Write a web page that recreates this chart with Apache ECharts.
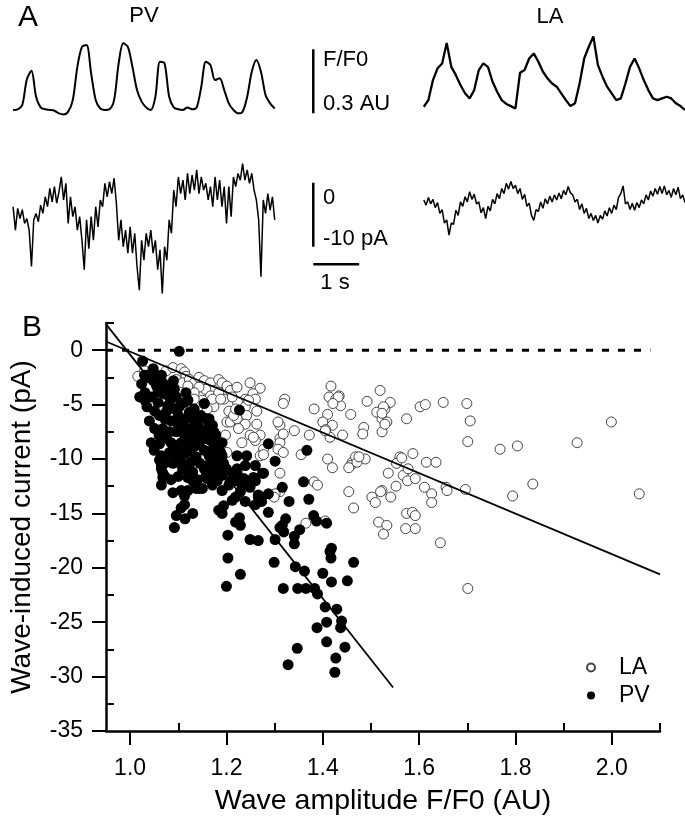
<!DOCTYPE html>
<html>
<head>
<meta charset="utf-8">
<script src="https://cdn.jsdelivr.net/npm/echarts@6/dist/echarts.min.js"></script>
<style>
  html, body { margin: 0; padding: 0; background: #fff; }
  #main { width: 685px; height: 821px; }
</style>
</head>
<body>
<div id="main"></div>
<script>
// ---- panel A traces (F/F0 in AU above baseline, current in pA) ----
const dtFluo = 0.1;   // s between samples
const dtCur = 0.05;
const pvFluo = [0.016,0.019,0.039,0.16,0.2,0.078,0.028,0.019,0.016,0.012,0.0,-0.005,0.008,0.062,0.218,0.312,0.32,0.187,0.062,0.023,0.016,0.019,0.062,0.234,0.328,0.312,0.218,0.109,0.055,0.028,0.016,0.078,0.242,0.234,0.078,0.028,0.019,0.016,0.028,0.019,0.028,0.125,0.242,0.226,0.156,0.164,0.109,0.047,0.016,0.0,0.008,0.078,0.195,0.25,0.195,0.086,0.047,0.023];
const laFluo = [0.031,0.062,0.156,0.211,0.234,0.33,0.218,0.179,0.133,0.094,0.07,0.109,0.203,0.234,0.218,0.148,0.101,0.062,0.044,0.034,0.023,0.19,0.203,0.257,0.281,0.242,0.195,0.164,0.14,0.125,0.094,0.062,0.034,0.047,0.14,0.257,0.312,0.36,0.226,0.172,0.125,0.094,0.062,0.07,0.14,0.218,0.257,0.211,0.156,0.109,0.07,0.062,0.07,0.078,0.07,0.047,0.034,0.016];
const pvCur = [-3.75,-7.4,-4.0,-5.6,-4.2,-6.35,-5.6,-7.4,-13.1,-5.8,-4.8,-6.1,-3.5,-4.8,-2.2,-3.75,-0.9,-3.0,-0.6,-3.2,-1.4,0.9,-2.7,-0.1,-6.35,-2.2,-5.3,-3.75,-7.4,-5.3,-9.0,-13.6,-5.8,-10.3,-5.3,-9.0,-3.75,-6.9,-2.7,-3.75,-0.1,-2.2,0.15,-1.7,0.7,-3.2,-9.0,-5.8,-10.0,-7.4,-11.0,-6.9,-11.0,-7.9,-13.1,-16.8,-9.0,-12.1,-7.9,-10.0,-7.4,-11.0,-9.0,-13.6,-10.5,-17.3,-10.0,-12.1,-5.8,-7.9,-1.15,-3.75,0.9,-1.7,0.4,-2.7,1.45,-1.7,1.2,-1.15,2.0,-1.7,0.9,-1.15,-0.1,-2.7,-0.6,-3.75,0.9,-2.7,0.4,-3.75,-0.6,-6.35,-0.6,-5.3,0.9,-0.6,1.45,0.4,3.0,0.4,2.0,-0.1,1.45,-1.15,-2.7,-5.8,-14.7,-2.7,-4.8,-1.7,-4.3,-2.2,-5.8];
const laCur = [-2.7,-3.5,-2.3,-3.3,-2.6,-3.9,-3.1,-4.8,-4.2,-6.3,-5.8,-8.2,-6.3,-6.5,-4.3,-5.1,-3.0,-3.7,-2.2,-3.0,-1.4,-2.6,-1.8,-3.3,-3.0,-4.7,-3.9,-5.6,-3.7,-4.4,-2.6,-3.3,-1.7,-2.5,-0.9,-1.7,-0.1,-1.0,0.2,-0.9,-0.4,-1.7,-0.9,-2.6,-1.8,-3.7,-3.2,-5.1,-5.9,-4.2,-4.5,-3.0,-4.0,-2.5,-3.3,-2.1,-3.0,-1.9,-2.7,-1.6,-2.5,-1.2,-1.9,-0.6,-1.6,-1.9,-3.0,-2.6,-4.2,-3.3,-4.8,-4.0,-5.6,-4.8,-5.9,-5.1,-6.3,-5.1,-5.7,-4.4,-5.2,-3.9,-4.8,-3.5,-4.2,-2.3,-1.7,-0.5,-3.3,-3.0,-4.2,-3.2,-4.3,-3.1,-3.9,-2.7,-3.3,-1.9,-2.7,-1.3,-2.1,-0.9,-1.8,-0.6,-1.7,-0.5,-1.9,-1.2,-2.3,-0.9,-1.9,-0.7,-2.5,-1.9,-3.1];

// scale bars: position (s) and sizes
const barT = 6.54;
const barAU = 0.3;
const barPA = -10;
const barSec = 1;
const barSecY = -12.75;

// ---- panel B scatter: [F/F0, current pA] ----
const laPoints = [
[1.016,-2.4],[1.030,-1.9],[1.075,-1.9],[1.089,-1.6],[1.106,-1.7],[1.113,-2.0],[1.116,-2.4],[1.096,-2.7],[1.109,-3.0],[1.123,-2.7],[1.133,-3.0],[1.143,-2.5],[1.154,-2.8],[1.167,-3.0],[1.184,-2.7],[1.191,-3.0],[1.201,-3.3],[1.208,-3.7],[1.174,-3.7],[1.157,-3.6],[1.143,-3.4],[1.133,-3.9],[1.120,-3.3],[1.167,-4.2],[1.181,-4.3],[1.195,-4.5],[1.174,-5.2],[1.160,-5.4],[1.150,-4.6],[1.205,-5.6],[1.201,-6.6],[1.198,-7.8],[1.222,-3.4],[1.249,-3.0],[1.270,-3.5],[1.255,-4.0],[1.260,-4.5],[1.239,-4.5],[1.223,-4.8],[1.212,-4.3],[1.184,-3.9],[1.171,-4.5],[1.133,-4.5],[1.188,-4.5],[1.239,-5.2],[1.263,-5.6],[1.242,-6.0],[1.208,-6.6],[1.222,-6.3],[1.239,-6.8],[1.263,-6.8],[1.270,-7.8],[1.249,-7.8],[1.232,-8.5],[1.260,-8.3],[1.277,-9.1],[1.270,-9.7],[1.311,-8.1],[1.311,-6.9],[1.321,-4.5],[1.318,-4.9],[1.307,-6.6],[1.341,-7.4],[1.372,-7.8],[1.355,-9.6],[1.382,-5.4],[1.410,-5.9],[1.417,-3.3],[1.413,-4.3],[1.427,-4.5],[1.434,-4.2],[1.437,-5.1],[1.458,-5.9],[1.400,-6.6],[1.420,-6.9],[1.406,-7.3],[1.415,-8.0],[1.441,-7.8],[1.492,-4.7],[1.519,-3.7],[1.540,-4.8],[1.529,-5.4],[1.512,-5.7],[1.523,-6.3],[1.533,-6.6],[1.523,-7.5],[1.485,-7.1],[1.483,-7.7],[1.475,-10.0],[1.461,-10.3],[1.458,-10.6],[1.488,-10.0],[1.468,-9.8],[1.410,-10.0],[1.420,-10.8],[1.454,-10.8],[1.536,-11.3],[1.523,-12.9],[1.502,-13.5],[1.509,-14.0],[1.541,-13.5],[1.516,-15.8],[1.533,-16.1],[1.526,-16.9],[1.454,-13.0],[1.464,-14.5],[1.406,-15.8],[1.365,-15.9],[1.311,-13.0],[1.301,-13.2],[1.299,-13.5],[1.382,-12.1],[1.389,-12.4],[1.311,-11.3],[1.201,-9.4],[1.256,-8.0],[1.311,-8.5],[1.318,-7.7],[1.307,-9.1],[1.277,-9.6],[1.318,-9.4],[1.215,-6.0],[1.225,-7.2],[1.219,-5.4],[1.246,-4.6],[1.432,-4.3],[1.421,-4.9],[1.526,-5.2],[1.523,-5.8],[1.529,-6.8],[1.405,-7.4],[1.471,-10.3],[1.475,-9.8],[1.560,-9.8],[1.553,-10.4],[1.567,-11.5],[1.552,-12.5],[1.520,-13.0],[1.405,-15.7],
[1.574,-6.3],[1.602,-5.2],[1.613,-5.0],[1.650,-4.8],[1.699,-4.9],[1.706,-6.5],[1.701,-8.4],[1.768,-9.1],[1.804,-8.8],[1.928,-8.5],[1.999,-6.6],[2.057,-13.2],[1.564,-9.9],[1.587,-9.5],[1.615,-10.3],[1.635,-10.3],[1.577,-10.9],[1.576,-12.0],[1.592,-11.8],[1.611,-12.6],[1.626,-13.2],[1.626,-14.0],[1.656,-12.6],[1.658,-12.9],[1.696,-12.8],[1.794,-13.4],[1.836,-12.3],[1.574,-15.0],[1.586,-14.9],[1.592,-15.2],[1.572,-16.4],[1.592,-16.4],[1.644,-17.7],[1.701,-21.9]
];
const pvPoints = [
[1.102,-0.1],[1.026,-1.0],[1.048,-1.7],[1.051,-2.2],[1.041,-2.2],[1.055,-2.7],[1.037,-2.5],[1.048,-2.8],[1.055,-3.3],[1.024,-3.1],[1.020,-4.3],[1.031,-3.9],[1.031,-4.6],
[1.068,-3.0],[1.078,-3.4],[1.092,-3.6],[1.085,-4.5],[1.096,-4.3],[1.116,-3.9],[1.113,-4.8],[1.102,-5.2],[1.123,-5.7],[1.133,-5.4],[1.130,-6.3],[1.116,-6.3],[1.092,-5.4],[1.078,-5.1],[1.058,-4.8],[1.044,-4.3],[1.051,-5.6],[1.061,-6.0],[1.075,-5.7],[1.072,-6.3],[1.085,-6.5],[1.099,-6.8],[1.113,-7.1],[1.126,-7.2],[1.140,-6.6],[1.147,-6.0],[1.154,-4.9],[1.157,-6.3],[1.160,-7.2],[1.171,-6.9],[1.178,-7.8],[1.167,-8.3],[1.181,-8.6],[1.191,-8.5],[1.188,-9.4],[1.154,-8.1],[1.140,-7.8],[1.126,-8.1],[1.113,-7.8],[1.096,-7.5],[1.082,-7.5],[1.068,-7.2],[1.075,-8.1],[1.085,-8.5],[1.061,-8.6],[1.044,-8.5],[1.051,-7.2],[1.065,-9.7],[1.082,-9.4],[1.096,-9.7],[1.113,-9.5],[1.126,-10.3],[1.137,-9.8],[1.154,-9.2],[1.065,-10.6],[1.089,-10.4],[1.109,-10.6],[1.120,-10.9],[1.130,-11.2],[1.154,-10.9],[1.167,-10.6],[1.174,-11.2],[1.068,-11.3],[1.188,-10.6],
[1.082,-3.9],[1.164,-6.3],[1.164,-7.7],[1.174,-7.5],[1.147,-8.3],[1.106,-8.5],[1.120,-8.3],[1.102,-9.1],[1.116,-8.9],[1.227,-5.5],[1.287,-8.6],[1.367,-9.2],[1.301,-10.2],[1.061,-10.1],[1.075,-10.3],[1.092,-10.1],[1.106,-10.3],[1.065,-10.9],[1.068,-11.7],[1.065,-12.4],[1.164,-9.7],[1.171,-10.3],[1.160,-10.6],[1.191,-9.7],[1.194,-10.4],[1.222,-9.7],[1.242,-9.7],[1.239,-10.6],[1.222,-10.9],[1.212,-11.3],[1.260,-10.6],[1.277,-11.3],[1.256,-11.7],[1.249,-12.1],[1.232,-12.4],[1.222,-12.0],[1.208,-12.1],[1.191,-12.9],[1.109,-10.9],[1.130,-12.0],[1.120,-12.9],[1.143,-12.7],[1.160,-11.8],[1.171,-12.4],[1.181,-12.0],[1.191,-11.5],
[1.072,-11.6],[1.089,-13.1],[1.106,-12.9],[1.113,-13.4],[1.137,-12.7],[1.150,-12.7],[1.157,-11.6],[1.096,-15.2],[1.106,-14.5],[1.114,-15.5],[1.130,-15.0],[1.113,-14.2],[1.092,-16.3],[1.184,-14.7],[1.194,-14.3],[1.191,-15.0],[1.219,-15.8],[1.227,-15.4],[1.229,-16.1],[1.203,-17.0],[1.249,-17.4],[1.266,-17.5],[1.203,-19.1],[1.229,-20.6],[1.200,-21.7],[1.174,-11.8],[1.222,-11.2],[1.236,-11.8],[1.205,-12.4],[1.212,-13.8],[1.219,-13.5],[1.229,-13.0],[1.239,-13.9],[1.249,-12.6],[1.260,-12.0],[1.266,-13.3],
[1.275,-11.3],[1.360,-12.1],[1.316,-12.6],[1.287,-13.2],[1.266,-13.5],[1.273,-13.9],[1.260,-14.2],[1.330,-13.9],[1.371,-13.7],[1.287,-14.9],[1.323,-15.5],[1.316,-16.1],[1.311,-16.3],[1.319,-16.7],[1.352,-16.5],[1.381,-15.2],[1.387,-15.7],[1.408,-15.9],[1.341,-17.1],[1.341,-17.8],[1.301,-17.4],[1.418,-18.2],[1.415,-18.5],[1.417,-19.1],[1.464,-19.5],[1.299,-19.5],[1.343,-19.9],[1.362,-20.3],[1.400,-20.5],[1.418,-21.3],[1.451,-21.2],[1.318,-21.9],[1.348,-21.9],[1.365,-21.9],[1.383,-21.9],[1.389,-22.4],[1.405,-23.6],[1.429,-23.8],[1.439,-24.9],[1.437,-25.5],[1.408,-25.0],[1.388,-25.5],[1.408,-26.8],[1.446,-27.3],[1.347,-27.4],[1.427,-28.3],[1.328,-28.9],[1.425,-29.6],
[1.035,-5.2],[1.040,-6.5],[1.050,-9.2],[1.058,-3.8],[1.070,-4.0],[1.090,-2.8],[1.100,-6.0],[1.120,-4.6],[1.135,-8.8],[1.145,-10.4],[1.180,-9.9],[1.200,-10.9],[1.170,-9.2],[1.060,-7.8],[1.090,-8.9],[1.125,-9.3],[1.145,-7.2],[1.030,-2.3],[1.065,-2.3],[1.100,-11.6],[1.085,-11.9],[1.120,-11.7],[1.140,-11.9]
];
// linear fits (end points)
const laFit = [[0.95, 0.8], [2.1, -20.6]];
const pvFit = [[0.95, 2.4], [1.546, -31.0]];
const zeroLine = [[0.95, 0], [2.08, 0]];

// tick values
const xMajor = [1.0, 1.2, 1.4, 1.6, 1.8, 2.0];
const xMinor = [1.1, 1.3, 1.5, 1.7, 1.9, 2.1];
const yMajor = [0, -5, -10, -15, -20, -25, -30, -35];
const yMinor = [2.5, -2.5, -7.5, -12.5, -17.5, -22.5, -27.5, -32.5];

const font = '"Liberation Sans", Arial, sans-serif';
const toXY = (vals, dt) => vals.map((v, i) => [+(i * dt).toFixed(3), v]);

const chart = echarts.init(document.getElementById('main'), null, { renderer: 'canvas' });

const hiddenX = (gi, max) => ({ type: 'value', gridIndex: gi, min: 0, max: max, show: false });
const hiddenY = (gi, min, max) => ({ type: 'value', gridIndex: gi, min: min, max: max, show: false });
const black = '#000';

const traceLine = (name, data, xi, yi, w) => ({
  name: name, type: 'line', xAxisIndex: xi, yAxisIndex: yi, data: data,
  showSymbol: false, symbol: 'none', lineStyle: { color: black, width: w }, silent: true
});

const option = {
  animation: false,
  backgroundColor: '#fff',
  textStyle: { fontFamily: font },
  grid: [
    { left: 13.1, top: 28, width: 347, height: 106.7 },     // PV fluo
    { left: 423.8, top: 28, width: 261.6, height: 106.7 },  // LA fluo
    { left: 13.1, top: 150.7, width: 347, height: 160 },    // PV current
    { left: 423.8, top: 150.7, width: 261.6, height: 160 }, // LA current
    { left: 100, top: 323, width: 560, height: 411 }         // panel B
  ],
  xAxis: [
    hiddenX(0, 7.56), hiddenX(1, 5.7), hiddenX(2, 7.56), hiddenX(3, 5.7),
    {
      type: 'value', gridIndex: 4, min: 0.95, max: 2.1, position: 'bottom',
      axisLine: { onZero: false, lineStyle: { color: black, width: 2.5 } },
      axisTick: { inside: false, customValues: xMajor, length: 14, lineStyle: { color: black, width: 2 } },
      axisLabel: { customValues: xMajor, formatter: v => v.toFixed(1), color: black, fontSize: 23, margin: 26, fontFamily: font },
      splitLine: { show: false },
      name: 'Wave amplitude F/F0 (AU)', nameLocation: 'middle', nameGap: 56,
      nameTextStyle: { color: black, fontSize: 28.5, fontFamily: font }
    },
    {
      // short ticks between the labelled ones (this second axis draws them outward with inside: true)
      type: 'value', gridIndex: 4, min: 0.95, max: 2.1, position: 'bottom',
      axisLine: { show: false, onZero: false },
      axisTick: { inside: true, customValues: xMinor, length: 8, lineStyle: { color: black, width: 2 } },
      axisLabel: { show: false }, splitLine: { show: false }
    }
  ],
  yAxis: [
    hiddenY(0, -0.1, 0.4), hiddenY(1, -0.1, 0.4), hiddenY(2, -20, 5), hiddenY(3, -20, 5),
    {
      type: 'value', gridIndex: 4, min: -35, max: 2.5, position: 'left',
      axisLine: { show: true, onZero: false, lineStyle: { color: black, width: 2.5 } },
      axisTick: { show: true, inside: false, customValues: yMajor, length: 14, lineStyle: { color: black, width: 2 } },
      axisLabel: { customValues: yMajor, color: black, fontSize: 23, margin: 23, fontFamily: font },
      splitLine: { show: false },
      name: 'Wave-induced current (pA)', nameLocation: 'middle', nameGap: 70,
      nameTextStyle: { color: black, fontSize: 28, fontFamily: font }
    },
    {
      type: 'value', gridIndex: 4, min: -35, max: 2.5, position: 'left',
      axisLine: { show: false, onZero: false },
      axisTick: { show: true, inside: true, customValues: yMinor, length: 8, lineStyle: { color: black, width: 2 } },
      axisLabel: { show: false }, splitLine: { show: false }
    }
  ],
  legend: {
    data: ['LA', 'PV'], orient: 'vertical', left: 581, top: 651,
    itemWidth: 46, itemHeight: 8, itemGap: 5,
    textStyle: { color: black, fontSize: 23, fontFamily: font }
  },
  series: [
    Object.assign(traceLine('pvFluo', toXY(pvFluo, dtFluo), 0, 0, 2), { smooth: 0.3 }),
    traceLine('barAU', [[barT, 0], [barT, barAU]], 0, 0, 2.5),
    traceLine('laFluo', toXY(laFluo, dtFluo), 1, 1, 2.3),
    traceLine('pvCur', toXY(pvCur, dtCur), 2, 2, 1.5),
    traceLine('barPA', [[barT, 0], [barT, barPA]], 2, 2, 2.5),
    traceLine('barSec', [[barT, barSecY], [barT + barSec, barSecY]], 2, 2, 2.5),
    traceLine('laCur', toXY(laCur, dtCur), 3, 3, 1.5),
    {
      name: 'LA', type: 'scatter', xAxisIndex: 4, yAxisIndex: 4, data: laPoints,
      symbol: 'circle', symbolSize: 10, z: 2,
      itemStyle: { color: '#fff', borderColor: '#444', borderWidth: 1, opacity: 1 }
    },
    {
      name: 'PV', type: 'scatter', xAxisIndex: 4, yAxisIndex: 4, data: pvPoints,
      symbol: 'circle', symbolSize: 11, z: 3,
      itemStyle: { color: black, opacity: 1 }
    },
    Object.assign(traceLine('laFit', laFit, 4, 4, 1.8), { z: 4 }),
    Object.assign(traceLine('pvFit', pvFit, 4, 4, 1.8), { z: 4 }),
    {
      name: 'zero', type: 'line', xAxisIndex: 4, yAxisIndex: 4, data: zeroLine,
      symbol: 'none', showSymbol: false, silent: true, z: 4,
      lineStyle: { color: black, width: 3, type: [7, 9] }
    }
  ],
  graphic: [
    { type: 'text', x: 28, y: 18, style: { text: 'A', font: '30px ' + font, fill: black, textAlign: 'center', textVerticalAlign: 'middle' } },
    { type: 'text', x: 144, y: 16, style: { text: 'PV', font: '22px ' + font, fill: black, textAlign: 'center', textVerticalAlign: 'middle' } },
    { type: 'text', x: 550, y: 17, style: { text: 'LA', font: '22px ' + font, fill: black, textAlign: 'center', textVerticalAlign: 'middle' } },
    { type: 'text', x: 323, y: 60, style: { text: 'F/F0', font: '22px ' + font, fill: black, textAlign: 'left', textVerticalAlign: 'middle' } },
    { type: 'text', x: 323, y: 104, style: { text: '0.3 AU', font: '22px ' + font, fill: black, textAlign: 'left', textVerticalAlign: 'middle' } },
    { type: 'text', x: 323, y: 198, style: { text: '0', font: '22px ' + font, fill: black, textAlign: 'left', textVerticalAlign: 'middle' } },
    { type: 'text', x: 323, y: 239, style: { text: '-10 pA', font: '22px ' + font, fill: black, textAlign: 'left', textVerticalAlign: 'middle' } },
    { type: 'text', x: 335, y: 283, style: { text: '1 s', font: '22px ' + font, fill: black, textAlign: 'center', textVerticalAlign: 'middle' } },
    { type: 'text', x: 32, y: 328, style: { text: 'B', font: '30px ' + font, fill: black, textAlign: 'center', textVerticalAlign: 'middle' } }
  ]
};

chart.setOption(option);
</script>
</body>
</html>
